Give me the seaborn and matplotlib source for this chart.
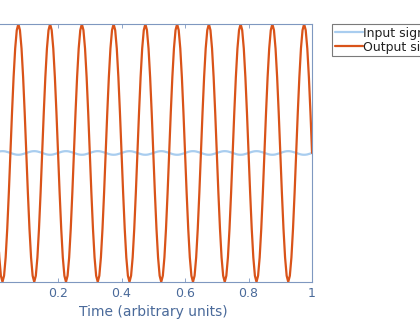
import numpy as np
import pandas as pd
import matplotlib
matplotlib.use("Agg")
import matplotlib.pyplot as plt
import seaborn as sns

# ---- data (10 cycles over 0..1, output inverted & amplified) ----
time_start, time_end, n_samples = 0.0, 1.0, 201

input_signal = [
    0.0, 0.022, 0.041, 0.057, 0.067, 0.07, 0.067, 0.057, 0.041, 0.022,
    0.0, -0.022, -0.041, -0.057, -0.067, -0.07, -0.067, -0.057, -0.041, -0.022,
    0.0, 0.022, 0.041, 0.057, 0.067, 0.07, 0.067, 0.057, 0.041, 0.022,
    0.0, -0.022, -0.041, -0.057, -0.067, -0.07, -0.067, -0.057, -0.041, -0.022,
    0.0, 0.022, 0.041, 0.057, 0.067, 0.07, 0.067, 0.057, 0.041, 0.022,
    0.0, -0.022, -0.041, -0.057, -0.067, -0.07, -0.067, -0.057, -0.041, -0.022,
    0.0, 0.022, 0.041, 0.057, 0.067, 0.07, 0.067, 0.057, 0.041, 0.022,
    0.0, -0.022, -0.041, -0.057, -0.067, -0.07, -0.067, -0.057, -0.041, -0.022,
    0.0, 0.022, 0.041, 0.057, 0.067, 0.07, 0.067, 0.057, 0.041, 0.022,
    0.0, -0.022, -0.041, -0.057, -0.067, -0.07, -0.067, -0.057, -0.041, -0.022,
    0.0, 0.022, 0.041, 0.057, 0.067, 0.07, 0.067, 0.057, 0.041, 0.022,
    0.0, -0.022, -0.041, -0.057, -0.067, -0.07, -0.067, -0.057, -0.041, -0.022,
    0.0, 0.022, 0.041, 0.057, 0.067, 0.07, 0.067, 0.057, 0.041, 0.022,
    0.0, -0.022, -0.041, -0.057, -0.067, -0.07, -0.067, -0.057, -0.041, -0.022,
    0.0, 0.022, 0.041, 0.057, 0.067, 0.07, 0.067, 0.057, 0.041, 0.022,
    0.0, -0.022, -0.041, -0.057, -0.067, -0.07, -0.067, -0.057, -0.041, -0.022,
    0.0, 0.022, 0.041, 0.057, 0.067, 0.07, 0.067, 0.057, 0.041, 0.022,
    0.0, -0.022, -0.041, -0.057, -0.067, -0.07, -0.067, -0.057, -0.041, -0.022,
    0.0, 0.022, 0.041, 0.057, 0.067, 0.07, 0.067, 0.057, 0.041, 0.022,
    0.0, -0.022, -0.041, -0.057, -0.067, -0.07, -0.067, -0.057, -0.041, -0.022,
    0.0,
]

output_signal = [
    0.0, -1.55, -2.94, -4.05, -4.76, -5.0, -4.76, -4.05, -2.94, -1.55,
    0.0, 1.55, 2.94, 4.05, 4.76, 5.0, 4.76, 4.05, 2.94, 1.55,
    0.0, -1.55, -2.94, -4.05, -4.76, -5.0, -4.76, -4.05, -2.94, -1.55,
    0.0, 1.55, 2.94, 4.05, 4.76, 5.0, 4.76, 4.05, 2.94, 1.55,
    0.0, -1.55, -2.94, -4.05, -4.76, -5.0, -4.76, -4.05, -2.94, -1.55,
    0.0, 1.55, 2.94, 4.05, 4.76, 5.0, 4.76, 4.05, 2.94, 1.55,
    0.0, -1.55, -2.94, -4.05, -4.76, -5.0, -4.76, -4.05, -2.94, -1.55,
    0.0, 1.55, 2.94, 4.05, 4.76, 5.0, 4.76, 4.05, 2.94, 1.55,
    0.0, -1.55, -2.94, -4.05, -4.76, -5.0, -4.76, -4.05, -2.94, -1.55,
    0.0, 1.55, 2.94, 4.05, 4.76, 5.0, 4.76, 4.05, 2.94, 1.55,
    0.0, -1.55, -2.94, -4.05, -4.76, -5.0, -4.76, -4.05, -2.94, -1.55,
    0.0, 1.55, 2.94, 4.05, 4.76, 5.0, 4.76, 4.05, 2.94, 1.55,
    0.0, -1.55, -2.94, -4.05, -4.76, -5.0, -4.76, -4.05, -2.94, -1.55,
    0.0, 1.55, 2.94, 4.05, 4.76, 5.0, 4.76, 4.05, 2.94, 1.55,
    0.0, -1.55, -2.94, -4.05, -4.76, -5.0, -4.76, -4.05, -2.94, -1.55,
    0.0, 1.55, 2.94, 4.05, 4.76, 5.0, 4.76, 4.05, 2.94, 1.55,
    0.0, -1.55, -2.94, -4.05, -4.76, -5.0, -4.76, -4.05, -2.94, -1.55,
    0.0, 1.55, 2.94, 4.05, 4.76, 5.0, 4.76, 4.05, 2.94, 1.55,
    0.0, -1.55, -2.94, -4.05, -4.76, -5.0, -4.76, -4.05, -2.94, -1.55,
    0.0, 1.55, 2.94, 4.05, 4.76, 5.0, 4.76, 4.05, 2.94, 1.55,
    0.0,
]

series_labels = ["Input signal", "Output signal"]
x_ticks = [0, 0.2, 0.4, 0.6, 0.8, 1]
x_tick_labels = ["0", "0.2", "0.4", "0.6", "0.8", "1"]
x_label = "Time (arbitrary units)"

# ---- build table ----
time = np.linspace(time_start, time_end, n_samples)
df = pd.DataFrame({
    "t": np.concatenate([time, time]),
    "v": np.concatenate([input_signal, output_signal]),
    "series": [series_labels[0]] * n_samples + [series_labels[1]] * n_samples,
})

sns.set_theme(style="white")
plt.rcParams["font.family"] = ["DejaVu Sans"]

text_c = "#4a6a9a"
spine_c = "#7f98c0"

fig = plt.figure(figsize=(4.2, 3.2), dpi=100)
ax = fig.add_axes([-0.013, 0.119, 0.756, 0.806])

sns.lineplot(data=df, x="t", y="v", hue="series",
             palette={series_labels[0]: "#a9cdef", series_labels[1]: "#d95319"},
             linewidth=1.6, ax=ax, sort=False, estimator=None)

ax.set_xlim(0, 1)
ax.set_ylim(-5.0, 5.0)
ax.set_xticks(x_ticks)
ax.set_xticklabels(x_tick_labels)
ax.set_yticks([])
ax.set_xlabel(x_label, fontsize=10, color=text_c, labelpad=3)
ax.set_ylabel("")
ax.tick_params(axis="x", direction="in", length=3, width=0.6, colors=spine_c,
               labelcolor=text_c, labelsize=9, top=True, bottom=True, pad=4)
for s in ax.spines.values():
    s.set_visible(True)
    s.set_color(spine_c)
    s.set_linewidth(0.8)

leg = ax.legend(loc="upper left", bbox_to_anchor=(1.063, 1.0), borderaxespad=0,
                fontsize=9, frameon=True, fancybox=False, framealpha=1,
                edgecolor="#7a7a7a", handlelength=2.3, handletextpad=0.0,
                borderpad=0.2, labelspacing=0.1)
leg.get_frame().set_linewidth(0.8)
for txt in leg.get_texts():
    txt.set_color("#222222")

fig.savefig("out.png", dpi=100)
